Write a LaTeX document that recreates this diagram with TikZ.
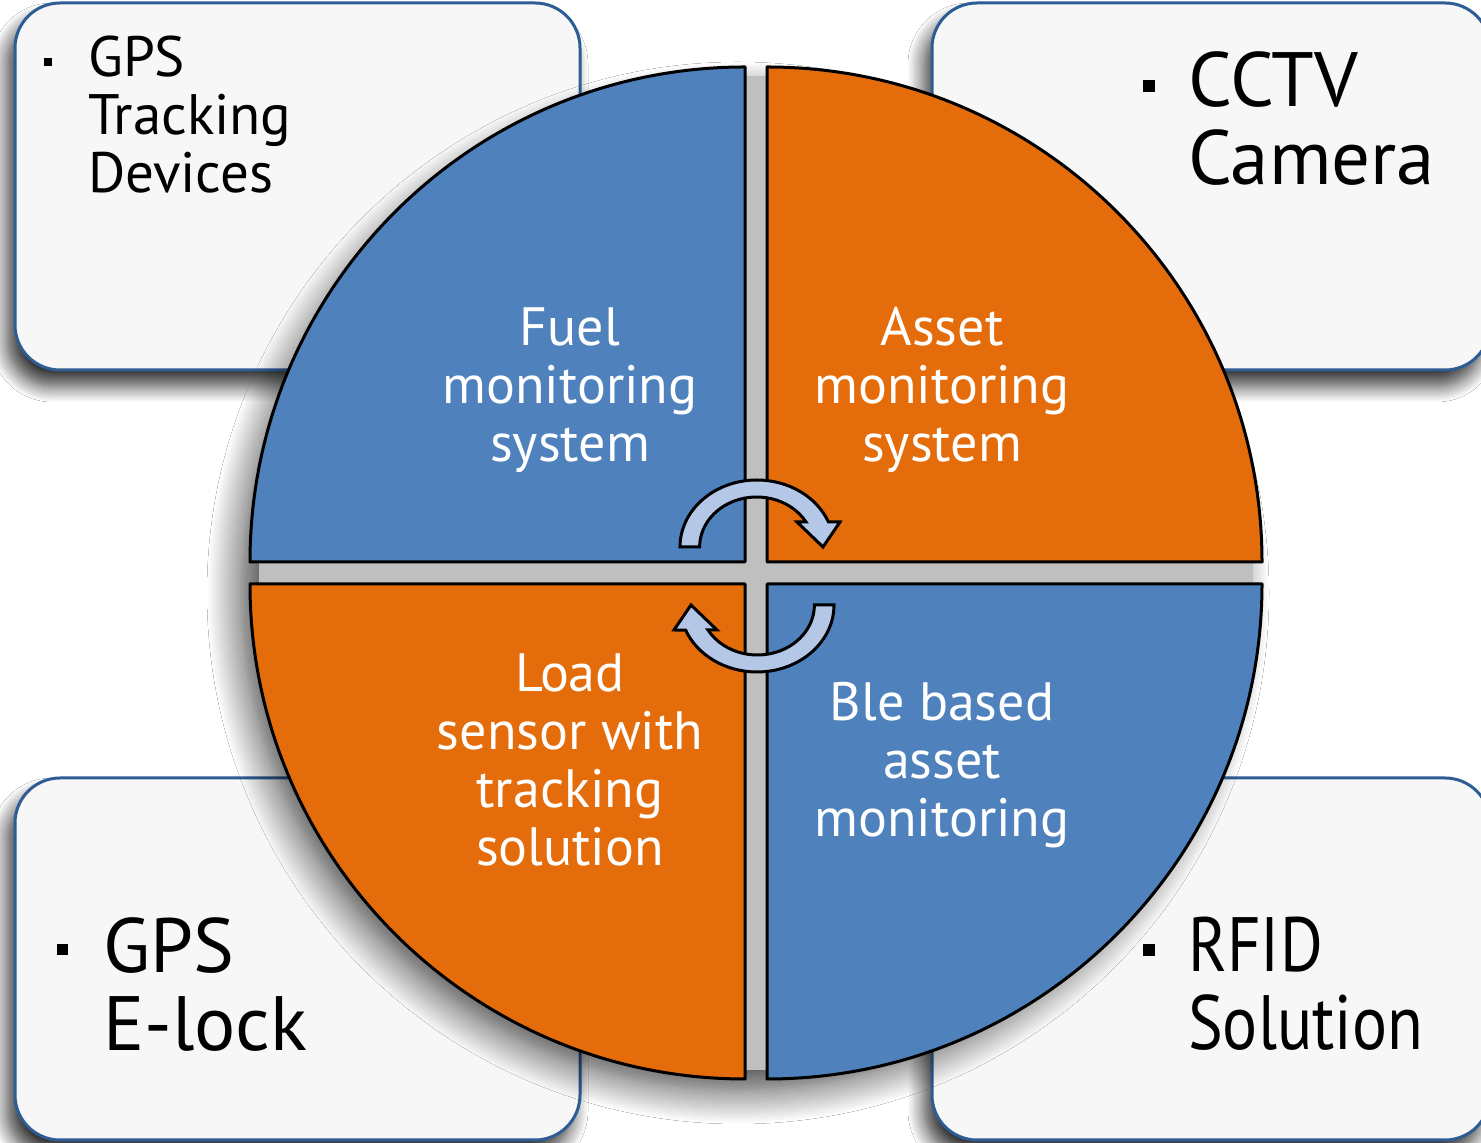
\documentclass[tikz,border=0pt]{standalone}
\usepackage{fontspec}
\setmainfont{PT Sans}
\usetikzlibrary{positioning,shadows.blur}
\definecolor{quarterblue}{HTML}{4F81BD}
\definecolor{quarterorange}{HTML}{E46C0A}
\definecolor{cardline}{HTML}{2E5C94}
\definecolor{cardfill}{HTML}{F7F7F7}
\definecolor{turnblue}{HTML}{B4C7E7}
\definecolor{gapgray}{HTML}{BFBFBF}

\begin{document}
\begin{tikzpicture}[x=1pt,y=1pt]
\tikzstyle{card}=[draw=cardline,fill=cardfill,line width=3pt,rounded corners=45pt,blur shadow={shadow xshift=-8pt,shadow yshift=-16pt,shadow blur radius=16pt,shadow blur steps=14,shadow opacity=80}]
\tikzstyle{quarter}=[draw=black,line width=3pt,line join=round]
\tikzstyle{turn}=[draw=black,fill=turnblue,line width=3pt,line join=miter]
\tikzstyle{inside}=[text=white,align=center,inner sep=0pt,font=\fontsize{54}{58}\selectfont]
\tikzstyle{item}=[text=black,align=left,inner sep=0pt,anchor=north west]
\tikzstyle{dot}=[fill=black,inner sep=0pt]
    \path[use as bounding box,fill=white] (0,0) rectangle (1481,1143);
    % corner cards
    \path[card] (15,773) rectangle (580,1140);
    \path[card] (932,773) rectangle (1490,1140);
    \path[card] (15,3) rectangle (580,365);
    \path[card] (932,3) rectangle (1490,365);
    % disc with four quarters
    \fill[gapgray,blur shadow={shadow xshift=-18pt,shadow yshift=-20pt,shadow blur radius=34pt,shadow blur steps=16,shadow opacity=75}] (756,570) circle (497);
    \path[quarter,fill=quarterblue] (745,581) -- ++(-495,0) arc (180:90:495) -- cycle;
    \path[quarter,fill=quarterorange] (767,581) -- ++(0,495) arc (90:0:495) -- cycle;
    \path[quarter,fill=quarterblue] (767,559) -- ++(495,0) arc (0:-90:495) -- cycle;
    \path[quarter,fill=quarterorange] (745,559) -- ++(0,-495) arc (270:180:495) -- cycle;
    % turning arrows
    \path[turn] (680,596) arc[start angle=180,end angle=22,x radius=77,y radius=67] -- (840,621) -- (823,596) -- (797,621) -- (806,621) arc[start angle=30,end angle=180,x radius=57,y radius=50] -- cycle;
    \path[turn,rotate around={180:(757,567)}] (680,596) arc[start angle=180,end angle=22,x radius=77,y radius=67] -- (840,621) -- (823,596) -- (797,621) -- (806,621) arc[start angle=30,end angle=180,x radius=57,y radius=50] -- cycle;
    % quarter texts
    \node[inside] (fuel) at (570,753) {Fuel\\monitoring\\system};
    \node[inside] (asset) at (942,753) {Asset\\monitoring\\system};
    \node[inside] (load) at (570,383) {Load\\sensor with\\tracking\\solution};
    \node[inside] (ble) at (942,378) {Ble based\\asset\\monitoring};
    % card texts
    \node[dot,minimum size=8pt] (gpsdot) at (48,1081) {};
    \node[item,font=\fontsize{57}{58}\selectfont] (gps) at (88,1107) {GPS\\Tracking\\Devices};
    \node[dot,minimum size=12pt] (cctvdot) at (1149,1057) {};
    \node[item,font=\fontsize{77}{78}\selectfont] (cctv) at (1188,1092) {CCTV\\Camera};
    \node[dot,minimum size=11pt] (elockdot) at (62,193) {};
    \node[item,font=\fontsize{77}{78}\selectfont] (elock) at (103,226) {GPS\\E-lock};
    \node[dot,minimum size=12pt] (rfiddot) at (1149,193) {};
    \node[item,font=\fontsize{77}{78}\selectfont\addfontfeature{FakeStretch=0.85}] (rfid) at (1188,226) {RFID\\Solution};
\end{tikzpicture}
\end{document}
